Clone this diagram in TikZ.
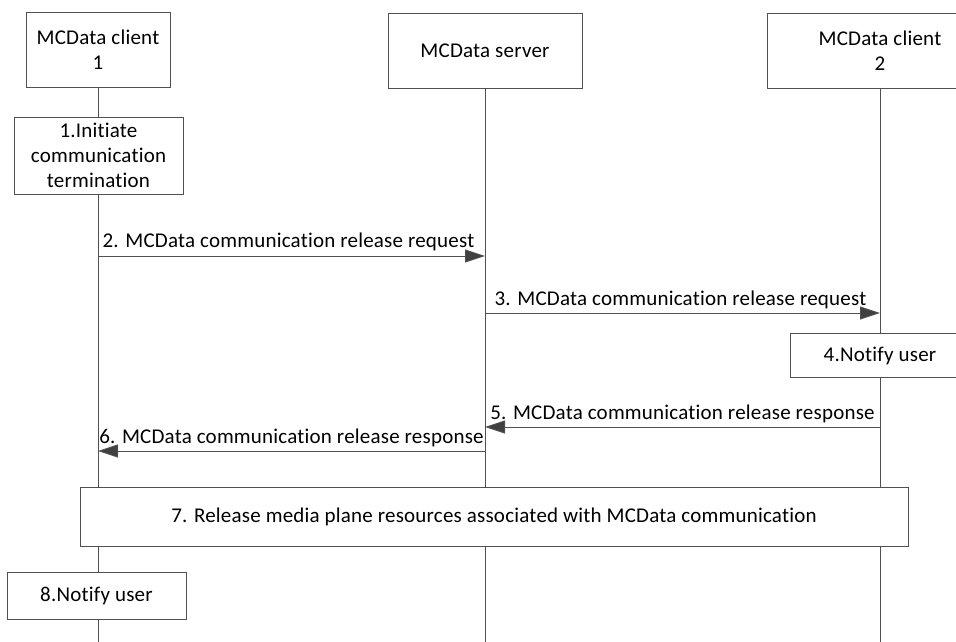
\documentclass[tikz,border=0pt]{standalone}
\usepackage{fontspec}
\setmainfont{Carlito}[LetterSpace=1, Ligatures=NoCommon]
\usetikzlibrary{arrows.meta}
\definecolor{linec}{HTML}{505050}
\definecolor{headc}{HTML}{404040}
\newcommand\dfs{\fontsize{21bp}{25bp}\selectfont}
\begin{document}
\begin{tikzpicture}[x=1bp,y=-1bp,
  box/.style={draw=linec, fill=white, line width=0.9bp, align=center, inner sep=0pt, font=\dfs},
  life/.style={draw=linec, line width=0.9bp},
  msg/.style={draw=linec, line width=0.9bp, -{Triangle[length=20bp,width=13bp,fill=headc]}},
  lbl/.style={font=\dfs, inner sep=0pt, anchor=base, yshift=8bp}]
\clip (0,0) rectangle (956,642);
\fill[white] (0,0) rectangle (956,642);
% lifelines
\coordinate (b1) at (98,642);
\coordinate (b2) at (485,642);
\coordinate (b3) at (880,642);
\node[box, minimum width=144bp, minimum height=75bp] (c1) at (98,49.5) {MCData client\\1};
\node[box, minimum width=194bp, minimum height=75bp] (srv) at (485,50.5) {MCData server};
\node[box, minimum width=226bp, minimum height=75bp] (c2) at (880,50.5) {MCData client\\2};
\draw[life] (c1.south) -- (b1);
\draw[life] (srv.south) -- (b2);
\draw[life] (c2.south) -- (b3);
% step 1
\node[box, minimum width=169bp, minimum height=77bp] (s1) at (98.5,155.5) {1.Initiate\\communication\\termination};
% messages
\coordinate (a2s) at (98,256);  \coordinate (a2e) at (485,256);
\coordinate (a3s) at (485,313); \coordinate (a3e) at (880,313);
\coordinate (a5s) at (880,427); \coordinate (a5e) at (485,427);
\coordinate (a6s) at (485,451); \coordinate (a6e) at (98,451);
\draw[msg] (a2s) -- (a2e) node[lbl, pos=0.5, xshift=-3bp] {2. MCData communication release request};
\draw[msg] (a3s) -- (a3e) node[lbl, pos=0.5, xshift=-2bp] {3. MCData communication release request};
\node[box, minimum width=180bp, minimum height=44bp] (s4) at (880,355.5) {4.Notify user};
\draw[msg] (a5s) -- (a5e) node[lbl, pos=0.5] {5. MCData communication release response};
\draw[msg] (a6s) -- (a6e) node[lbl, pos=0.5] {6. MCData communication release response};
% step 7, 8
\node[box, minimum width=828bp, minimum height=59bp] (s7) at (494,516.5) {7. Release media plane resources associated with MCData communication};
\node[box, minimum width=179bp, minimum height=47bp] (s8) at (96.5,595.5) {8.Notify user};
\end{tikzpicture}
\end{document}
